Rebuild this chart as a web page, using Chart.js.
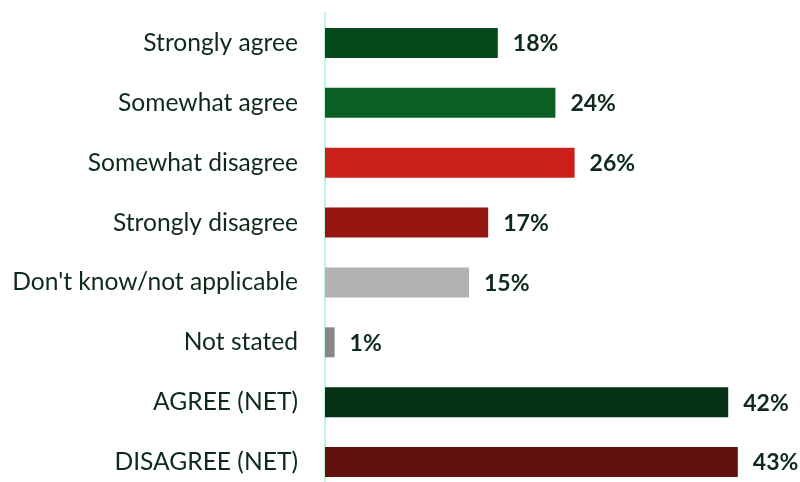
<!DOCTYPE html>
<html>
<head>
<meta charset="utf-8">
<script src="https://cdn.jsdelivr.net/npm/chart.js@4/dist/chart.umd.min.js"></script>
<style>
  html, body { margin: 0; padding: 0; background: #ffffff; overflow: hidden; }
  #clip { width: 800px; height: 482px; overflow: hidden; position: relative; }
  #box { width: 800px; height: 492px; position: relative; }
</style>
</head>
<body>
<div id="clip"><div id="box"><canvas id="chart"></canvas></div></div>
<script>
// Survey responses, share of respondents (%)
const categories = [
  "Strongly agree",
  "Somewhat agree",
  "Somewhat disagree",
  "Strongly disagree",
  "Don't know/not applicable",
  "Not stated",
  "AGREE (NET)",
  "DISAGREE (NET)"
];
const percentages = [18, 24, 26, 17, 15, 1, 42, 43];
const barColors = [
  "#064a1b", "#0b5f25", "#ca2019", "#961612",
  "#b2b2b2", "#878787", "#063216", "#62110e"
];

const TEXT_COLOR = "#0e2a1a";
const FONT = "Lato, 'Open Sans', sans-serif";

// Writes each bar's value just past its end
const valueLabels = {
  id: "valueLabels",
  afterDatasetsDraw(chart) {
    const ctx = chart.ctx;
    const meta = chart.getDatasetMeta(0);
    ctx.save();
    ctx.font = "bold 23px " + FONT;
    ctx.fillStyle = TEXT_COLOR;
    ctx.textAlign = "left";
    ctx.textBaseline = "middle";
    meta.data.forEach((bar, i) => {
      ctx.fillText(percentages[i] + "%", bar.x + 15, bar.y + 1);
    });
    ctx.restore();
  }
};

new Chart(document.getElementById("chart"), {
  type: "bar",
  data: {
    labels: categories,
    datasets: [{
      data: percentages,
      backgroundColor: barColors,
      borderWidth: 0,
      barPercentage: 0.5,
      categoryPercentage: 1.0
    }]
  },
  options: {
    indexAxis: "y",
    responsive: true,
    maintainAspectRatio: false,
    animation: false,
    events: [],
    layout: { padding: { top: 13, right: 43, bottom: 0, left: 0 } },
    plugins: {
      legend: { display: false },
      tooltip: { enabled: false }
    },
    scales: {
      x: {
        display: false,
        min: 0,
        max: 45
      },
      y: {
        afterFit(scale) {
          // fixed label column; no extra room above/below the bands
          scale.width = 325;
          scale.paddingTop = 0;
          scale.paddingBottom = 0;
        },
        grid: { display: false, drawTicks: false },
        border: { display: true, color: "#bff5da", width: 2 },
        ticks: {
          padding: 27,
          autoSkip: false,
          color: TEXT_COLOR,
          font: { family: FONT, size: 24.6 }
        }
      }
    }
  },
  plugins: [valueLabels]
});
</script>
</body>
</html>
